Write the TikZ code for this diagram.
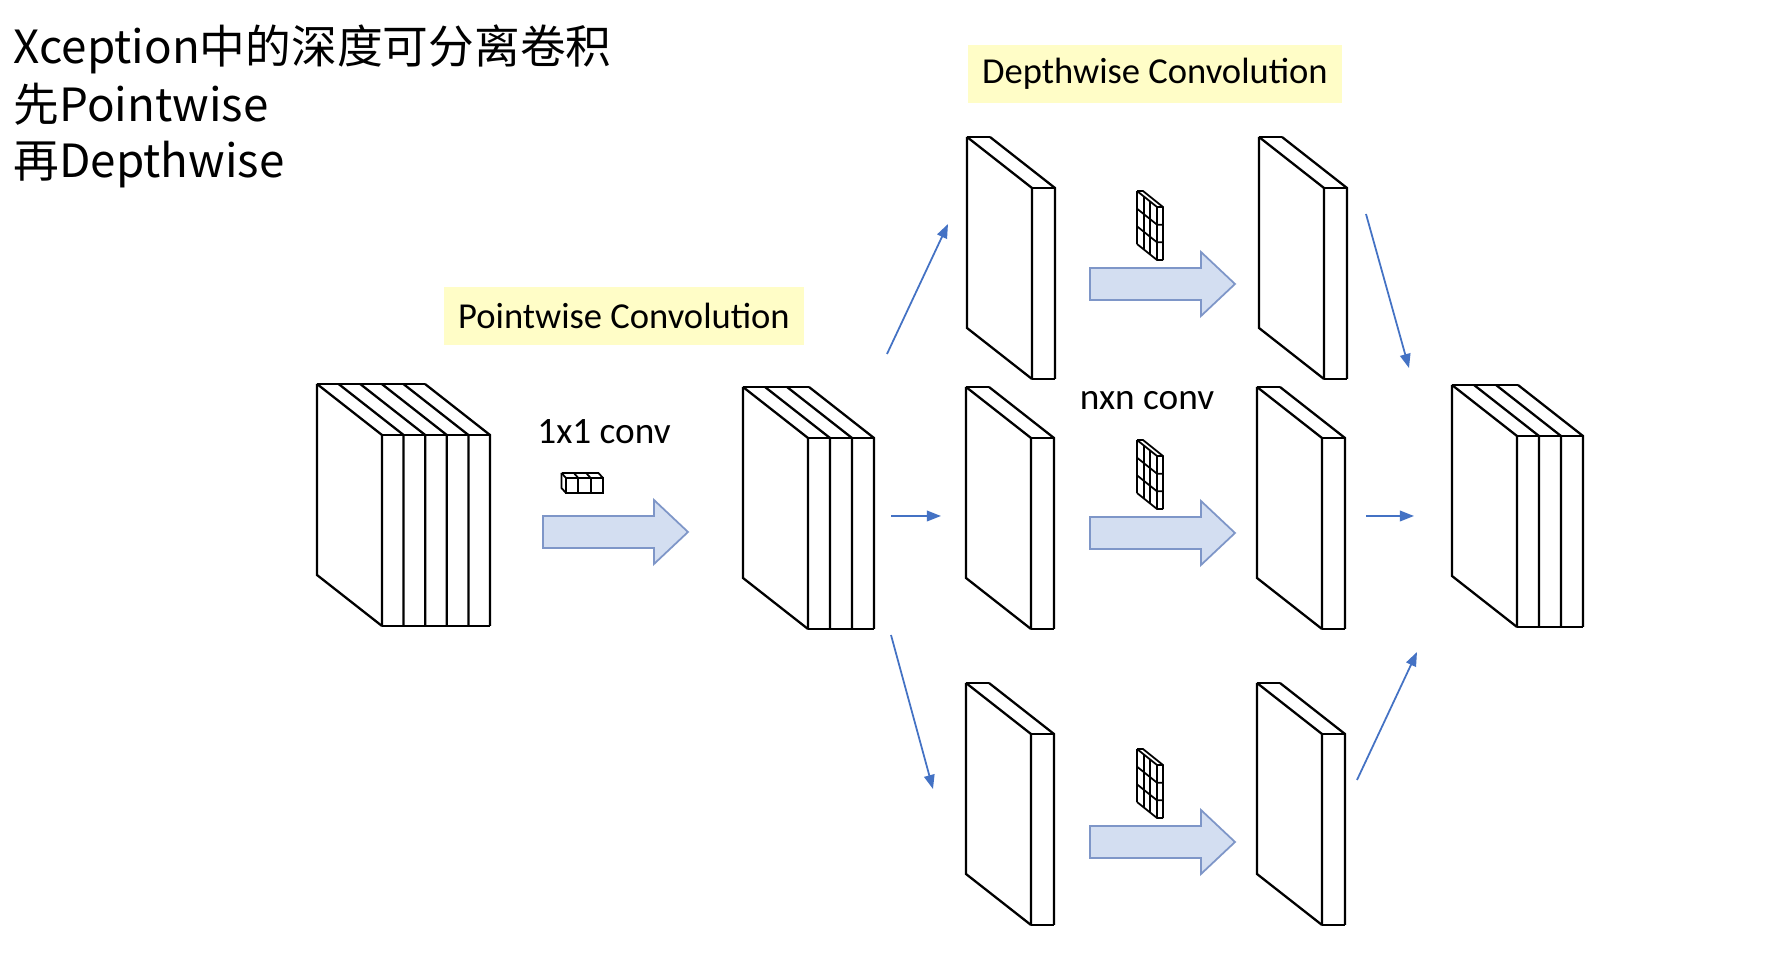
\documentclass[tikz,border=0pt]{standalone}
\usepackage{fontspec}
\usepackage{xcolor}
\usepackage{tikz}
\usetikzlibrary{arrows.meta}
\newfontfamily\cjkfont{Noto Sans CJK SC}
\newfontfamily\calibrifont{Carlito}
\definecolor{flecha}{HTML}{4472C4}
\definecolor{bloque}{HTML}{D3DEF1}
\definecolor{borde}{HTML}{7E96C8}
\definecolor{resalte}{HTML}{FFFDC7}

% feature map: x, y (back top-left corner), slices, slice width
\newcommand{\featmap}[4]{%
  \draw[mapa] (#1,#2) -- ++(0,191) -- ++(65,51);
  \draw[mapa] (#1,#2) -- ++(#3*#4,0);
  \draw[mapa] (#1+65,#2+51) -- ++(#3*#4,0);
  \draw[mapa] (#1+65,#2+242) -- ++(#3*#4,0);
  \foreach \k in {0,...,#3}
    \draw[mapa] (#1+\k*#4,#2) -- ++(65,51) -- ++(0,191);
}
% 3x3 filter: x, y (back top-left corner)
\newcommand{\filtro}[2]{%
  \foreach \i in {0,1,2,3}
    \draw[rejilla] (#1+\i*20/3,#2+\i*16/3) -- ++(0,53);
  \foreach \j in {0,1,2,3}
    \draw[rejilla] (#1,#2+\j*53/3) -- ++(20,16) -- ++(6,0);
  \draw[rejilla] (#1,#2) -- ++(6,0) -- ++(20,16) -- ++(0,53);
}
% block arrow: x (tail), y (centre)
\newcommand{\flechagrande}[2]{%
  \draw[gruesa] (#1,#2-16) -- ++(111,0) -- ++(0,-16) -- (#1+145,#2)
    -- (#1+111,#2+32) -- ++(0,-16) -- (#1,#2+16) -- cycle;
}

\begin{document}
\begin{tikzpicture}[
    x=0.01cm, y=-0.01cm,
    mapa/.style={draw=black, line width=0.65pt, line join=miter},
    rejilla/.style={draw=black, line width=0.5pt},
    gruesa/.style={draw=borde, fill=bloque, line width=0.5pt},
    link/.style={-{Triangle[length=4pt, width=3pt]}, line width=0.5pt, color=flecha},
    etiqueta/.style={
        rectangle,
        fill=resalte,
        inner sep=0pt,
        minimum height=0.58cm,
        font=\calibrifont\fontsize{10.4}{12}\selectfont,
    },
    conv/.style={anchor=base, inner sep=0pt, font=\calibrifont\fontsize{10.6}{12}\selectfont},
    titulo/.style={anchor=base west, inner sep=0pt, font=\cjkfont\fontsize{13}{15}\selectfont},
]
\fill[white] (0,0) rectangle (1768,964);
\useasboundingbox (0,0) rectangle (1768,964);

% title
\node[titulo] (linea1) at (13,64)  {Xception中的深度可分离卷积};
\node[titulo] (linea2) at (13,122) {先Pointwise};
\node[titulo] (linea3) at (13,178) {再Depthwise};

% labels
\node[etiqueta, minimum width=3.6cm]  (pointwise) at (624,316) {Pointwise Convolution};
\node[etiqueta, minimum width=3.73cm] (depthwise) at (1155,74) {Depthwise Convolution};
\node[conv] (conv1) at (604,444) {1x1 conv};
\node[conv] (convn) at (1147,410) {nxn conv};

% feature maps
\featmap{317}{384}{5}{21.6}
\featmap{743}{387}{3}{22}
\featmap{1452}{385}{3}{22}
\featmap{967}{137}{1}{23}
\featmap{1259}{137}{1}{23}
\featmap{966}{387}{1}{23}
\featmap{1257}{387}{1}{23}
\featmap{966}{683}{1}{23}
\featmap{1257}{683}{1}{23}

% 1x1 filter
\draw[rejilla] (566,478) rectangle (603,493);
\foreach \k in {1,2}
  \draw[rejilla] (566+\k*12.33,478) -- ++(0,15);
\foreach \k in {0,1,2,3}
  \draw[rejilla] (566+\k*12.33,478) -- ++(-4.5,-5);
\draw[rejilla] (561.5,473) -- ++(37,0);
\draw[rejilla] (561.5,473) -- ++(0,15) -- (566,493);

% nxn filters
\filtro{1137}{191}
\filtro{1137}{440}
\filtro{1137}{749}

% block arrows
\flechagrande{543}{532}
\flechagrande{1090}{284}
\flechagrande{1090}{533}
\flechagrande{1090}{842}

% split and merge
\coordinate (s1) at (887,354);  \coordinate (e1) at (948,224);
\coordinate (s2) at (891,516);  \coordinate (e2) at (941,516);
\coordinate (s3) at (891,635);  \coordinate (e3) at (933,789);
\coordinate (s4) at (1366,214); \coordinate (e4) at (1409,368);
\coordinate (s5) at (1366,516); \coordinate (e5) at (1414,516);
\coordinate (s6) at (1357,780); \coordinate (e6) at (1417,652);

\draw[link] (s1) -- (e1);
\draw[link] (s2) -- (e2);
\draw[link] (s3) -- (e3);
\draw[link] (s4) -- (e4);
\draw[link] (s5) -- (e5);
\draw[link] (s6) -- (e6);

\end{tikzpicture}
\end{document}
